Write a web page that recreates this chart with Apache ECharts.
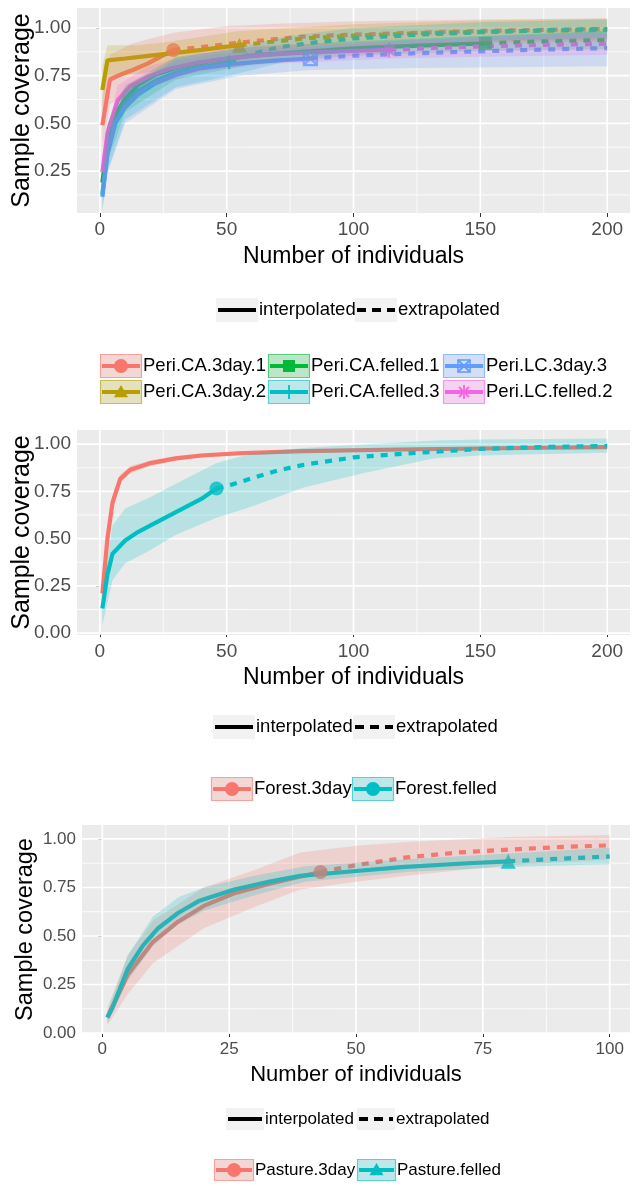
<!DOCTYPE html>
<html>
<head>
<meta charset="utf-8">
<script src="https://cdn.jsdelivr.net/npm/echarts@6/dist/echarts.min.js"></script>
<style>
html,body{margin:0;padding:0;background:#fff}
#chart{width:632px;height:1186px}
</style>
</head>
<body>
<div id="chart"></div>
<script>
// ---------------- Panel 1: Peri assemblages ----------------
// ix/iy = interpolated curve, ex/ey = extrapolated curve, bx/lo/hi = 95% band
const ca3d1_ix = [1, 4, 8, 13, 19, 24, 29];
const ca3d1_iy = [0.49, 0.73, 0.755, 0.78, 0.815, 0.85, 0.885];
const ca3d1_ex = [29, 40, 60, 80, 100, 125, 150, 175, 200];
const ca3d1_ey = [0.885, 0.90, 0.93, 0.955, 0.965, 0.975, 0.985, 0.99, 0.995];
const ca3d1_bx = [1, 4, 13, 29, 50, 75, 100, 150, 200];
const ca3d1_lo = [0.36, 0.60, 0.68, 0.79, 0.84, 0.88, 0.90, 0.93, 0.94];
const ca3d1_hi = [0.62, 0.86, 0.92, 0.975, 1.01, 1.025, 1.035, 1.045, 1.05];

const ca3d2_ix = [1, 3, 10, 20, 30, 40, 55];
const ca3d2_iy = [0.675, 0.83, 0.84, 0.855, 0.87, 0.885, 0.91];
const ca3d2_ex = [55, 80, 100, 125, 150, 175, 200];
const ca3d2_ey = [0.91, 0.945, 0.96, 0.972, 0.98, 0.986, 0.99];
const ca3d2_bx = [1, 3, 15, 26, 55, 100, 150, 200];
const ca3d2_lo = [0.55, 0.74, 0.76, 0.78, 0.83, 0.89, 0.92, 0.93];
const ca3d2_hi = [0.80, 0.91, 0.91, 0.925, 0.985, 1.02, 1.04, 1.05];

const caf1_ix = [1, 3, 6, 10, 15, 22, 30, 45, 60, 80, 100, 125, 152];
const caf1_iy = [0.19, 0.40, 0.54, 0.63, 0.70, 0.755, 0.79, 0.83, 0.855, 0.875, 0.893, 0.908, 0.92];
const caf1_ex = [152, 175, 200];
const caf1_ey = [0.92, 0.93, 0.938];
const caf1_bx = [1, 3, 10, 30, 60, 100, 152, 200];
const caf1_lo = [0.10, 0.30, 0.56, 0.73, 0.81, 0.855, 0.88, 0.89];
const caf1_hi = [0.28, 0.50, 0.70, 0.85, 0.90, 0.93, 0.96, 0.985];

const caf3_ix = [1, 3, 6, 10, 15, 22, 30, 40, 51];
const caf3_iy = [0.13, 0.35, 0.50, 0.60, 0.67, 0.725, 0.765, 0.795, 0.82];
const caf3_ex = [51, 60, 71, 85, 100, 125, 150, 175, 200];
const caf3_ey = [0.82, 0.865, 0.90, 0.925, 0.945, 0.965, 0.978, 0.988, 0.995];
const caf3_bx = [1, 3, 10, 30, 51, 75, 100, 150, 200];
const caf3_lo = [0.05, 0.25, 0.52, 0.69, 0.75, 0.83, 0.88, 0.93, 0.95];
const caf3_hi = [0.21, 0.45, 0.68, 0.84, 0.89, 0.96, 1.0, 1.03, 1.045];

const lc3d3_ix = [1, 3, 6, 10, 15, 22, 30, 40, 55, 70, 83];
const lc3d3_iy = [0.115, 0.34, 0.50, 0.585, 0.65, 0.71, 0.755, 0.79, 0.815, 0.83, 0.84];
const lc3d3_ex = [83, 100, 125, 150, 175, 200];
const lc3d3_ey = [0.84, 0.855, 0.868, 0.878, 0.887, 0.895];
const lc3d3_bx = [1, 3, 10, 30, 55, 83, 125, 200];
const lc3d3_lo = [0.04, 0.24, 0.50, 0.68, 0.75, 0.78, 0.79, 0.80];
const lc3d3_hi = [0.19, 0.44, 0.67, 0.83, 0.88, 0.90, 0.94, 0.985];

const lcf2_ix = [1, 3, 7, 12, 19, 27, 39, 50, 65, 85, 100, 114];
const lcf2_iy = [0.245, 0.45, 0.62, 0.695, 0.745, 0.785, 0.82, 0.84, 0.86, 0.873, 0.88, 0.885];
const lcf2_ex = [114, 130, 150, 175, 200];
const lcf2_ey = [0.885, 0.895, 0.904, 0.912, 0.918];
const lcf2_bx = [1, 7, 19, 39, 65, 114, 150, 200];
const lcf2_lo = [0.16, 0.54, 0.69, 0.77, 0.81, 0.84, 0.85, 0.86];
const lcf2_hi = [0.33, 0.70, 0.80, 0.87, 0.91, 0.93, 0.95, 0.975];

// ---------------- Panel 2: Forest ----------------
const f3d_ix = [1, 3, 5, 8, 12, 20, 30, 40, 55, 80, 125, 175, 200];
const f3d_iy = [0.21, 0.50, 0.69, 0.815, 0.865, 0.90, 0.925, 0.94, 0.952, 0.963, 0.973, 0.981, 0.984];
const f3d_bx = [1, 3, 5, 8, 12, 20, 30, 40, 55, 80, 125, 175, 200];
const f3d_lo = [0.15, 0.44, 0.65, 0.79, 0.845, 0.885, 0.912, 0.929, 0.942, 0.954, 0.965, 0.974, 0.977];
const f3d_hi = [0.27, 0.56, 0.73, 0.84, 0.885, 0.915, 0.938, 0.951, 0.962, 0.972, 0.981, 0.988, 0.991];

const ffe_ix = [1, 3, 5, 10, 15, 20, 30, 40, 46];
const ffe_iy = [0.13, 0.31, 0.42, 0.49, 0.535, 0.57, 0.64, 0.71, 0.765];
const ffe_ex = [46, 53, 60, 70, 80, 100, 120, 150, 175, 200];
const ffe_ey = [0.765, 0.79, 0.82, 0.86, 0.89, 0.93, 0.95, 0.975, 0.985, 0.99];
const ffe_bx = [1, 5, 10, 20, 30, 46, 60, 80, 105, 132, 150, 200];
const ffe_lo = [0.04, 0.28, 0.37, 0.44, 0.52, 0.61, 0.67, 0.77, 0.85, 0.925, 0.94, 0.955];
const ffe_hi = [0.21, 0.57, 0.66, 0.72, 0.79, 0.90, 0.95, 0.98, 1.0, 1.02, 1.025, 1.03];

// ---------------- Panel 3: Pasture ----------------
const p3d_ix = [1, 5, 10, 15, 20, 26, 33, 38, 43];
const p3d_iy = [0.08, 0.30, 0.47, 0.575, 0.655, 0.72, 0.77, 0.80, 0.83];
const p3d_ex = [43, 50, 60, 70, 80, 90, 100];
const p3d_ey = [0.83, 0.865, 0.905, 0.93, 0.945, 0.958, 0.967];
const p3d_bx = [1, 5, 10, 20, 30, 39, 50, 60, 80, 100];
const p3d_lo = [0.04, 0.20, 0.36, 0.54, 0.65, 0.74, 0.78, 0.81, 0.865, 0.895];
const p3d_hi = [0.13, 0.40, 0.58, 0.75, 0.84, 0.93, 0.965, 0.985, 1.01, 1.02];

const pfe_ix = [1, 2, 5, 8, 11, 15, 19, 26, 33, 39, 50, 59, 72, 80];
const pfe_iy = [0.08, 0.13, 0.33, 0.45, 0.54, 0.62, 0.68, 0.74, 0.78, 0.81, 0.835, 0.855, 0.875, 0.885];
const pfe_ex = [80, 90, 100];
const pfe_ey = [0.885, 0.898, 0.91];
const pfe_bx = [1, 5, 10, 15, 20, 30, 40, 60, 80, 100];
const pfe_lo = [0.05, 0.27, 0.45, 0.56, 0.63, 0.71, 0.78, 0.83, 0.855, 0.87];
const pfe_hi = [0.11, 0.40, 0.60, 0.70, 0.75, 0.81, 0.86, 0.895, 0.925, 0.955];

// ---------------- Axis ticks ----------------
const xTicks200 = [0, 50, 100, 150, 200];
const xMinor200 = [25, 75, 125, 175];
const xTicks100 = [0, 25, 50, 75, 100];
const xMinor100 = [12.5, 37.5, 62.5, 87.5];
const yTicksTop = [0.25, 0.50, 0.75, 1.00];
const yMinorTop = [0.125, 0.375, 0.625, 0.875];
const yTicksAll = [0.00, 0.25, 0.50, 0.75, 1.00];
const yMinorAll = [0.125, 0.375, 0.625, 0.875];

const FONT = "'Liberation Sans', Arial, sans-serif";
const RED = '#F8766D', OLIVE = '#B79F00', GREEN = '#00BA38', CYAN = '#00BFC4', BLUE = '#619CFF', PINK = '#F564E3';

const panels = [
  {
    grid: {left: 77, top: 8, width: 553, height: 205},
    x: [-9, 209], y: [0.03, 1.105],
    xTicks: xTicks200, xMinor: xMinor200, yTicks: yTicksTop, yMinor: yMinorTop,
    tickFont: 19, titleFont: 23, yTitleFont: 25, xNameGap: 32, yNameGap: 42,
    groups: [
      {name: 'Peri.CA.3day.1', color: RED, shape: 'circle', ix: ca3d1_ix, iy: ca3d1_iy, ex: ca3d1_ex, ey: ca3d1_ey, bx: ca3d1_bx, lo: ca3d1_lo, hi: ca3d1_hi},
      {name: 'Peri.CA.3day.2', color: OLIVE, shape: 'triangle', ix: ca3d2_ix, iy: ca3d2_iy, ex: ca3d2_ex, ey: ca3d2_ey, bx: ca3d2_bx, lo: ca3d2_lo, hi: ca3d2_hi},
      {name: 'Peri.CA.felled.1', color: GREEN, shape: 'square', ix: caf1_ix, iy: caf1_iy, ex: caf1_ex, ey: caf1_ey, bx: caf1_bx, lo: caf1_lo, hi: caf1_hi},
      {name: 'Peri.CA.felled.3', color: CYAN, shape: 'plus', ix: caf3_ix, iy: caf3_iy, ex: caf3_ex, ey: caf3_ey, bx: caf3_bx, lo: caf3_lo, hi: caf3_hi},
      {name: 'Peri.LC.3day.3', color: BLUE, shape: 'boxx', ix: lc3d3_ix, iy: lc3d3_iy, ex: lc3d3_ex, ey: lc3d3_ey, bx: lc3d3_bx, lo: lc3d3_lo, hi: lc3d3_hi},
      {name: 'Peri.LC.felled.2', color: PINK, shape: 'star', ix: lcf2_ix, iy: lcf2_iy, ex: lcf2_ex, ey: lcf2_ey, bx: lcf2_bx, lo: lcf2_lo, hi: lcf2_hi}
    ]
  },
  {
    grid: {left: 77, top: 430, width: 553, height: 205},
    x: [-9, 209], y: [-0.01, 1.075],
    xTicks: xTicks200, xMinor: xMinor200, yTicks: yTicksAll, yMinor: yMinorAll,
    tickFont: 19, titleFont: 23, yTitleFont: 25, xNameGap: 31, yNameGap: 42,
    groups: [
      {name: 'Forest.3day', color: RED, shape: 'circle', ix: f3d_ix, iy: f3d_iy, ex: null, ey: null, bx: f3d_bx, lo: f3d_lo, hi: f3d_hi, noPoint: true},
      {name: 'Forest.felled', color: CYAN, shape: 'circle', ix: ffe_ix, iy: ffe_iy, ex: ffe_ex, ey: ffe_ey, bx: ffe_bx, lo: ffe_lo, hi: ffe_hi}
    ]
  },
  {
    grid: {left: 82, top: 825, width: 548, height: 209},
    x: [-4, 104], y: [-0.005, 1.072],
    xTicks: xTicks100, xMinor: xMinor100, yTicks: yTicksAll, yMinor: yMinorAll,
    tickFont: 17, titleFont: 22, yTitleFont: 23.5, xNameGap: 30, yNameGap: 44,
    groups: [
      {name: 'Pasture.3day', color: RED, shape: 'circle', ix: p3d_ix, iy: p3d_iy, ex: p3d_ex, ey: p3d_ey, bx: p3d_bx, lo: p3d_lo, hi: p3d_hi},
      {name: 'Pasture.felled', color: CYAN, shape: 'triangle', ix: pfe_ix, iy: pfe_iy, ex: pfe_ex, ey: pfe_ey, bx: pfe_bx, lo: pfe_lo, hi: pfe_hi}
    ]
  }
];

// point shapes (filled or outlined)
const SHAPES = {
  circle:   {symbol: 'circle', size: 14, filled: true},
  triangle: {symbol: 'triangle', size: 15, filled: true},
  square:   {symbol: 'rect', size: 13, filled: true},
  plus:     {symbol: 'path://M5,0L5,10M0,5L10,5', size: 14, filled: false},
  boxx:     {symbol: 'path://M0,0L10,0L10,10L0,10ZM0,0L10,10M10,0L0,10', size: 13, filled: false},
  star:     {symbol: 'path://M5,0L5,10M0,5L10,5M1.5,1.5L8.5,8.5M8.5,1.5L1.5,8.5', size: 15, filled: false}
};

const zip = (xs, ys) => xs.map((x, i) => [x, ys[i]]);

function gridLineSeries(pi, p) {
  const rows = [];
  p.xMinor.forEach(v => rows.push([v, 0, 0]));
  p.yMinor.forEach(v => rows.push([v, 1, 0]));
  p.xTicks.forEach(v => rows.push([v, 0, 1]));
  p.yTicks.forEach(v => rows.push([v, 1, 1]));
  return {
    type: 'custom', xAxisIndex: pi, yAxisIndex: pi, z: 1, silent: true,
    data: rows,
    renderItem(params, api) {
      const v = api.value(0), dir = api.value(1), major = api.value(2);
      let a, b;
      if (dir === 0) { a = api.coord([v, p.y[0]]); b = api.coord([v, p.y[1]]); }
      else { a = api.coord([p.x[0], v]); b = api.coord([p.x[1], v]); }
      return {type: 'line', shape: {x1: a[0], y1: a[1], x2: b[0], y2: b[1]},
        style: {stroke: '#FFFFFF', lineWidth: major ? 1.7 : 0.8}};
    }
  };
}

function bandSeries(pi, g) {
  return {
    type: 'custom', xAxisIndex: pi, yAxisIndex: pi, z: 4, silent: true,
    data: g.bx.map((x, i) => [x, g.lo[i], g.hi[i]]),
    renderItem(params, api) {
      if (params.dataIndex !== 0) return null;
      const pts = [];
      for (let i = 0; i < g.bx.length; i++) pts.push(api.coord([g.bx[i], g.hi[i]]));
      for (let i = g.bx.length - 1; i >= 0; i--) pts.push(api.coord([g.bx[i], g.lo[i]]));
      return {type: 'polygon', shape: {points: pts}, style: {fill: g.color, opacity: 0.22}};
    }
  };
}

const grids = [], xAxes = [], yAxes = [], series = [];
panels.forEach((p, pi) => {
  grids.push(Object.assign({outerBoundsMode: 'none', containLabel: false}, p.grid));
  xAxes.push({
    type: 'value', gridIndex: pi, min: p.x[0], max: p.x[1],
    axisLine: {show: false},
    axisTick: {show: true, length: 4, customValues: p.xTicks, lineStyle: {color: '#333333', width: 1}},
    axisLabel: {customValues: p.xTicks, color: '#4D4D4D', fontSize: p.tickFont, fontFamily: FONT, margin: 7},
    splitLine: {show: false},
    name: 'Number of individuals', nameLocation: 'middle', nameGap: p.xNameGap, nameMoveOverlap: false,
    nameTextStyle: {color: '#000', fontSize: p.titleFont, fontFamily: FONT}
  });
  yAxes.push({
    type: 'value', gridIndex: pi, min: p.y[0], max: p.y[1],
    axisLine: {show: false},
    axisTick: {show: true, length: 4, customValues: p.yTicks, lineStyle: {color: '#333333', width: 1}},
    axisLabel: {customValues: p.yTicks, color: '#4D4D4D', fontSize: p.tickFont, fontFamily: FONT, margin: 6,
      formatter: v => Number(v).toFixed(2)},
    splitLine: {show: false},
    name: 'Sample coverage', nameLocation: 'middle', nameGap: p.yNameGap, nameMoveOverlap: false,
    nameTextStyle: {color: '#000', fontSize: p.yTitleFont, fontFamily: FONT}
  });
  series.push(gridLineSeries(pi, p));
  p.groups.forEach(g => {
    series.push({
      type: 'line', name: g.name, xAxisIndex: pi, yAxisIndex: pi, z: 2, silent: true,
      data: zip(g.ix, g.iy), showSymbol: false, lineStyle: {color: g.color, width: 4.2, cap: 'butt'}
    });
    if (g.ex) {
      series.push({
        type: 'line', name: g.name, xAxisIndex: pi, yAxisIndex: pi, z: 2, silent: true,
        data: zip(g.ex, g.ey), showSymbol: false, lineStyle: {color: g.color, width: 4.2, type: [7, 7]}
      });
    }
    if (!g.noPoint) {
      const s = SHAPES[g.shape];
      const last = g.ix.length - 1;
      series.push({
        type: 'scatter', name: g.name, xAxisIndex: pi, yAxisIndex: pi, z: 3, silent: true,
        data: [[g.ix[last], g.iy[last]]], symbol: s.symbol, symbolSize: s.size,
        itemStyle: s.filled ? {color: g.color} : {color: 'rgba(0,0,0,0)', borderColor: g.color, borderWidth: 2.2}
      });
    }
    series.push(bandSeries(pi, g));
  });
});

// ---------------- Legends (ggplot-style key boxes) ----------------
const gfx = [];
function keyBox(x, yc, w, h) {
  gfx.push({type: 'rect', shape: {x: x, y: yc - h / 2, width: w, height: h}, style: {fill: '#F2F2F2'}, z: 100});
}
function lineKey(x, yc, w, h, dashed, label, fs) {
  keyBox(x, yc, w, h);
  gfx.push({type: 'line', shape: {x1: x + 2, y1: yc, x2: x + w - 2, y2: yc},
    style: {stroke: '#000', lineWidth: 4.2, lineDash: dashed ? [9, 6] : null}, z: 101});
  gfx.push({type: 'text', x: x + w + 1, y: yc, style: {text: label, fill: '#000', fontSize: fs, fontFamily: FONT, align: 'left', verticalAlign: 'middle'}, z: 101});
}
function marker(cx, cy, shape, color) {
  const r = 7;
  if (shape === 'circle') gfx.push({type: 'circle', shape: {cx: cx, cy: cy, r: r}, style: {fill: color}, z: 102});
  else if (shape === 'triangle') gfx.push({type: 'polygon', shape: {points: [[cx, cy - r], [cx + r, cy + r * 0.75], [cx - r, cy + r * 0.75]]}, style: {fill: color}, z: 102});
  else if (shape === 'square') gfx.push({type: 'rect', shape: {x: cx - 6, y: cy - 6, width: 12, height: 12}, style: {fill: color}, z: 102});
  else {
    const segs = [[cx, cy - r, cx, cy + r], [cx - r, cy, cx + r, cy]];
    if (shape === 'boxx') {
      gfx.push({type: 'rect', shape: {x: cx - 6, y: cy - 6, width: 12, height: 12}, style: {fill: 'none', stroke: color, lineWidth: 1.5}, z: 102});
      segs.length = 0;
      segs.push([cx - 6, cy - 6, cx + 6, cy + 6], [cx + 6, cy - 6, cx - 6, cy + 6]);
    }
    if (shape === 'star') segs.push([cx - 5, cy - 5, cx + 5, cy + 5], [cx + 5, cy - 5, cx - 5, cy + 5]);
    segs.forEach(s => gfx.push({type: 'line', shape: {x1: s[0], y1: s[1], x2: s[2], y2: s[3]}, style: {stroke: color, lineWidth: 1.8}, z: 102}));
  }
}
function groupKey(x, yc, w, h, g, fs) {
  keyBox(x, yc, w, h);
  gfx.push({type: 'rect', shape: {x: x + 0.5, y: yc - h / 2 + 0.5, width: w - 1, height: h - 1},
    style: {fill: g.color, opacity: 0.22}, z: 101});
  gfx.push({type: 'rect', shape: {x: x + 0.5, y: yc - h / 2 + 0.5, width: w - 1, height: h - 1},
    style: {fill: 'none', stroke: g.color, lineWidth: 1.2, opacity: 0.6}, z: 101});
  gfx.push({type: 'line', shape: {x1: x + 2, y1: yc, x2: x + w - 2, y2: yc}, style: {stroke: g.color, lineWidth: 4.2}, z: 102});
  marker(x + w / 2, yc, g.shape, g.color);
  gfx.push({type: 'text', x: x + w + 1, y: yc, style: {text: g.name, fill: '#000', fontSize: fs, fontFamily: FONT, align: 'left', verticalAlign: 'middle'}, z: 101});
}

// Panel 1 legends
lineKey(216, 310, 42, 24, false, 'interpolated', 18.5);
lineKey(355, 310, 42, 24, true, 'extrapolated', 18.5);
const g1 = panels[0].groups;
groupKey(100, 366, 42, 24, g1[0], 18.5);
groupKey(100, 392, 42, 24, g1[1], 18.5);
groupKey(268, 366, 42, 24, g1[2], 18.5);
groupKey(268, 392, 42, 24, g1[3], 18.5);
groupKey(443, 366, 42, 24, g1[4], 18.5);
groupKey(443, 392, 42, 24, g1[5], 18.5);
// Panel 2 legends
lineKey(213, 727, 42, 24, false, 'interpolated', 18.5);
lineKey(353, 727, 42, 24, true, 'extrapolated', 18.5);
groupKey(211, 789, 42, 24, panels[1].groups[0], 18.5);
groupKey(352, 789, 42, 24, panels[1].groups[1], 18.5);
// Panel 3 legends
lineKey(226, 1119, 38, 22, false, 'interpolated', 17);
lineKey(357, 1119, 38, 22, true, 'extrapolated', 17);
groupKey(214, 1170, 40, 22, panels[2].groups[0], 17);
groupKey(357, 1170, 39, 22, panels[2].groups[1], 17);

const chart = echarts.init(document.getElementById('chart'), null, {renderer: 'canvas'});
chart.setOption({
  animation: false,
  backgroundColor: '#FFFFFF',
  textStyle: {fontFamily: FONT},
  grid: grids.map(g => Object.assign({show: true, backgroundColor: '#EBEBEB', borderWidth: 0}, g)),
  xAxis: xAxes,
  yAxis: yAxes,
  series: series,
  graphic: {elements: gfx}
});
</script>
</body>
</html>
